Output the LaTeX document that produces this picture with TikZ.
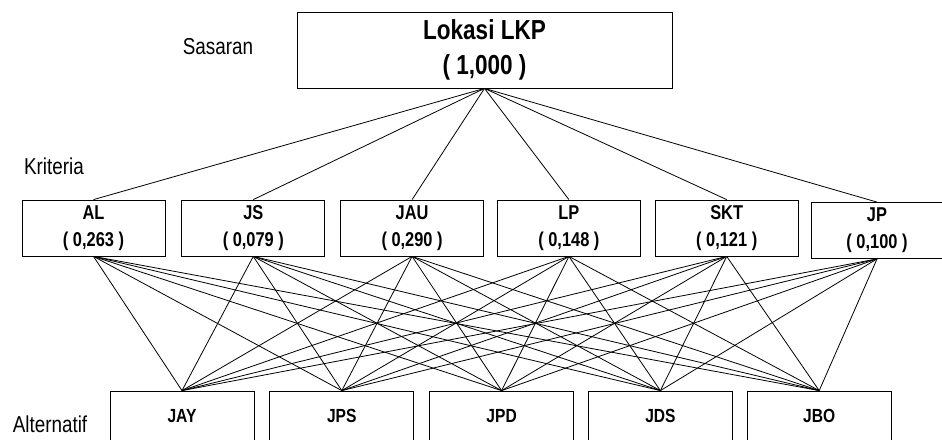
\documentclass[tikz,border=0pt]{standalone}
\usepackage{fontspec}
\setmainfont{Liberation Sans}[FakeStretch=0.82]
\usetikzlibrary{positioning}

\begin{document}
\begin{tikzpicture}
[x=1pt,y=1pt,node distance=14pt,
box/.style =
{draw, shape=rectangle, align=center, line width=0.8pt, inner sep=0pt},
krit/.style = {box, minimum width=143pt, minimum height=56pt,
font=\fontsize{20}{27}\selectfont\bfseries},
alt/.style = {box, minimum width=144pt, minimum height=50pt,
font=\fontsize{19}{22}\selectfont\bfseries},
level/.style = {font=\fontsize{23}{26}\selectfont}]
\useasboundingbox (0,0) rectangle (942,439);

\node [box, minimum width=375pt, minimum height=76pt,
font=\fontsize{27.5}{35}\selectfont\bfseries] (goal) at (484.5,389)
{Lokasi LKP\\( 1,000 )};

\node [krit] (al) at (93.5,211) {AL\\( 0,263 )};
\node [krit, right=16pt of al] (js) {JS\\( 0,079 )};
\node [krit, right=15pt of js] (jau) {JAU\\( 0,290 )};
\node [krit, right=13pt of jau] (lp) {LP\\( 0,148 )};
\node [krit, right=of lp] (skt) {SKT\\( 0,121 )};
\node [krit, right=12pt of skt, minimum width=132pt, yshift=-2.5pt] (jp) {JP\\( 0,100 )};

\node [alt] (jay) at (182,23) {JAY};
\node [alt, right=15pt of jay] (jps) {JPS};
\node [alt, right=15pt of jps] (jpd) {JPD};
\node [alt, right=of jpd] (jds) {JDS};
\node [alt, right=of jds] (jbo) {JBO};

\node [level] (sasaran) at (218,392) {Sasaran};
\node [level] (kriteria) at (54,273) {Kriteria};
\node [level] (alternatif) at (50,15) {Alternatif};

\path[draw, line width=0.8pt]
(goal.south)edge(al.north)(goal.south)edge(js.north)(goal.south)edge(jau.north)
(goal.south)edge(lp.north)(goal.south)edge(skt.north)(goal.south)edge(jp.north)

(al.south)edge(jay.north)(al.south)edge(jps.north)(al.south)edge(jpd.north)(al.south)edge(jds.north)(al.south)edge(jbo.north)
(js.south)edge(jay.north)(js.south)edge(jps.north)(js.south)edge(jpd.north)(js.south)edge(jds.north)(js.south)edge(jbo.north)
(jau.south)edge(jay.north)(jau.south)edge(jps.north)(jau.south)edge(jpd.north)(jau.south)edge(jds.north)(jau.south)edge(jbo.north)
(lp.south)edge(jay.north)(lp.south)edge(jps.north)(lp.south)edge(jpd.north)(lp.south)edge(jds.north)(lp.south)edge(jbo.north)
(skt.south)edge(jay.north)(skt.south)edge(jps.north)(skt.south)edge(jpd.north)(skt.south)edge(jds.north)(skt.south)edge(jbo.north)
(jp.south)edge(jay.north)(jp.south)edge(jps.north)(jp.south)edge(jpd.north)(jp.south)edge(jds.north)(jp.south)edge(jbo.north)
;

\end{tikzpicture}
\end{document}
